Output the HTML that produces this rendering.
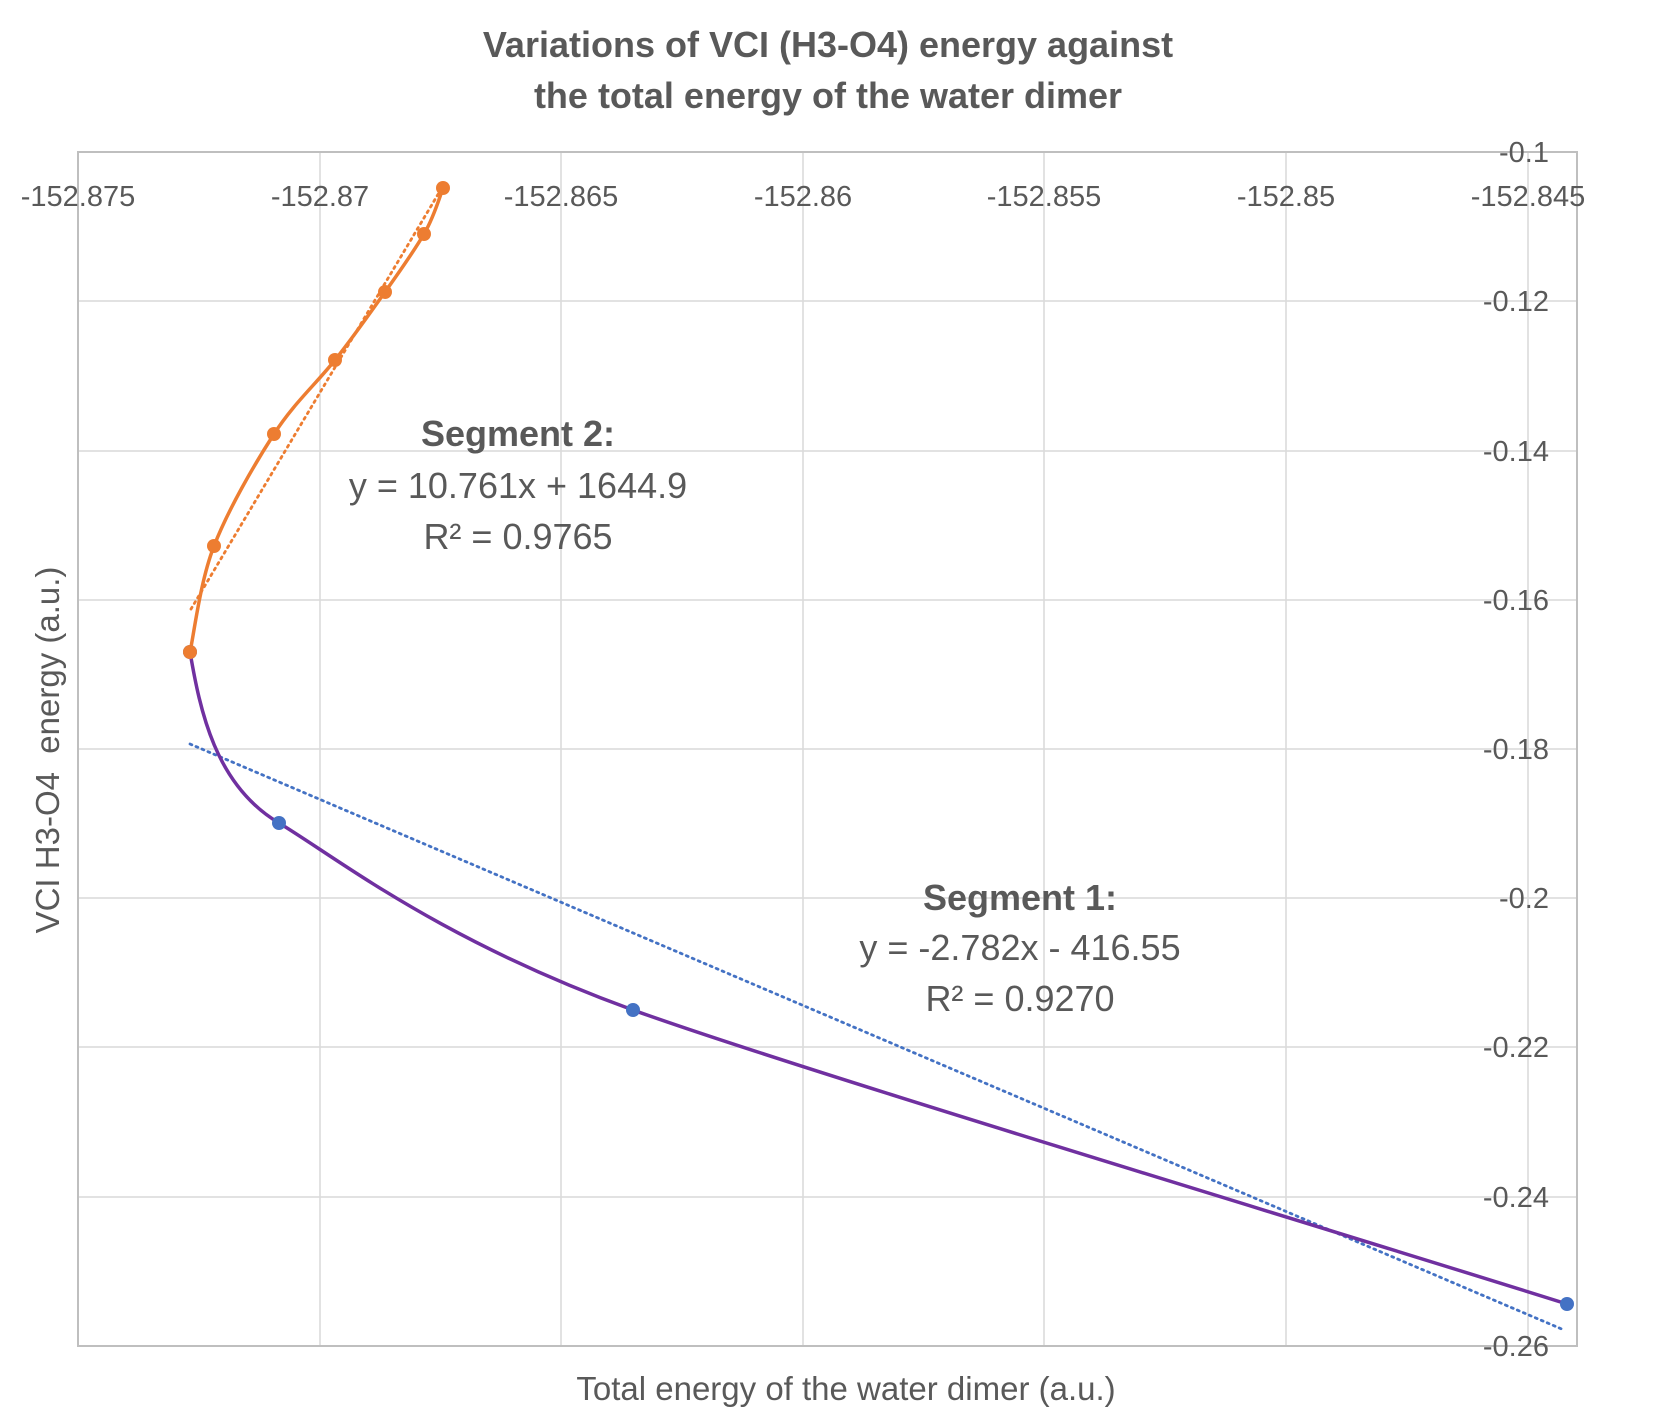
<!DOCTYPE html>
<html><head><meta charset="utf-8"><style>
body{margin:0;background:#fff}
svg text{font-family:"Liberation Sans",sans-serif;fill:#595959;white-space:pre}
</style></head><body>
<svg width="1657" height="1419" viewBox="0 0 1657 1419" xmlns="http://www.w3.org/2000/svg">
<rect width="1657" height="1419" fill="#fff"/>
<g stroke="#d9d9d9" stroke-width="1.5">
<line x1="320" y1="152" x2="320" y2="1346"/><line x1="561" y1="152" x2="561" y2="1346"/>
<line x1="803" y1="152" x2="803" y2="1346"/><line x1="1044" y1="152" x2="1044" y2="1346"/>
<line x1="1286" y1="152" x2="1286" y2="1346"/><line x1="1528" y1="152" x2="1528" y2="1346"/>
<line x1="78" y1="301" x2="1577" y2="301"/><line x1="78" y1="451" x2="1577" y2="451"/>
<line x1="78" y1="600" x2="1577" y2="600"/><line x1="78" y1="749" x2="1577" y2="749"/>
<line x1="78" y1="898" x2="1577" y2="898"/><line x1="78" y1="1047" x2="1577" y2="1047"/>
<line x1="78" y1="1197" x2="1577" y2="1197"/>
</g>
<rect x="78" y="152" width="1499" height="1194" fill="none" stroke="#bfbfbf" stroke-width="2"/>
<text x="828" y="57" font-size="36" font-weight="bold" text-anchor="middle">Variations of VCI (H3-O4) energy against</text>
<text x="828" y="108" font-size="36" font-weight="bold" text-anchor="middle">the total energy of the water dimer</text>
<g font-size="29" text-anchor="middle">
<text x="78" y="206">-152.875</text><text x="320" y="206">-152.87</text><text x="561" y="206">-152.865</text>
<text x="803" y="206">-152.86</text><text x="1044" y="206">-152.855</text><text x="1286" y="206">-152.85</text>
<text x="1528" y="206">-152.845</text>
</g>
<g font-size="29" text-anchor="end">
<text x="1549" y="162">-0.1</text><text x="1549" y="311">-0.12</text><text x="1549" y="461">-0.14</text>
<text x="1549" y="610">-0.16</text><text x="1549" y="759">-0.18</text><text x="1549" y="908">-0.2</text>
<text x="1549" y="1057">-0.22</text><text x="1549" y="1207">-0.24</text><text x="1549" y="1356">-0.26</text>
</g>
<text x="846" y="1400" font-size="33" text-anchor="middle">Total energy of the water dimer (a.u.)</text>
<text transform="translate(59,750) rotate(-90)" font-size="33" text-anchor="middle">VCI H3-O4  energy (a.u.)</text>
<path d="M191,609 L443,186" stroke="#ED7D31" stroke-width="2.8" stroke-dasharray="2,4.5" stroke-linecap="round" fill="none"/>
<path d="M190,744 L1564,1330" stroke="#4472C4" stroke-width="2.8" stroke-dasharray="2,4.5" stroke-linecap="round" fill="none"/>
<path d="M190,652 C200,710 215,785 279,823 C340,860 440,940 633,1010 C800,1070 1300,1220 1567,1304" stroke="#7030A0" stroke-width="3.5" fill="none"/>
<path d="M190,652 C194,634 200,582 214,546 C228,510 254,465 274,434 C294,403 316,384 335,360 C354,336 370,313 385,292 C400,271 414,251 424,234 C434,217 440,196 443,188" stroke="#ED7D31" stroke-width="3.5" fill="none"/>
<g fill="#4472C4"><circle cx="279" cy="823" r="7"/><circle cx="633" cy="1010" r="7"/><circle cx="1567" cy="1304" r="7"/><circle cx="190" cy="652" r="7"/></g>
<g fill="#ED7D31"><circle cx="190" cy="652" r="7"/><circle cx="214" cy="546" r="7"/><circle cx="274" cy="434" r="7"/><circle cx="335" cy="360" r="7"/><circle cx="385" cy="292" r="7"/><circle cx="424" cy="234" r="7"/><circle cx="443" cy="188" r="7"/></g>
<g font-size="36" text-anchor="middle">
<text x="518" y="446" font-weight="bold">Segment 2:</text>
<text x="518" y="498">y = 10.761x + 1644.9</text>
<text x="518" y="549">R² = 0.9765</text>
<text x="1020" y="910" font-weight="bold">Segment 1:</text>
<text x="1020" y="960">y = -2.782x - 416.55</text>
<text x="1020" y="1011">R² = 0.9270</text>
</g>
</svg>
</body></html>
